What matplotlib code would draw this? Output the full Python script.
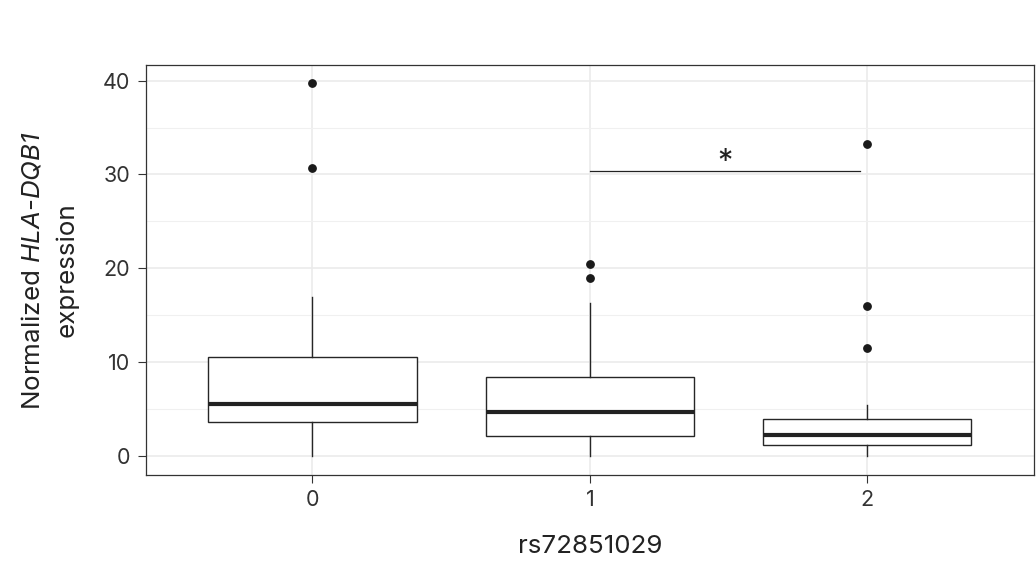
import numpy as np
import matplotlib
matplotlib.use("Agg")
import matplotlib.pyplot as plt

# Box statistics (one entry per genotype)
genotypes = ["0", "1", "2"]
whislo = [0.0, 0.0, 0.0]
q1 = [3.66, 2.13, 1.21]
med = [5.57, 4.72, 2.23]
q3 = [10.53, 8.40, 3.98]
whishi = [17.0, 16.3, 5.5]
fliers = [[39.7, 30.7], [20.5, 19.0], [33.2, 16.0, 11.5]]

# significance bracket between genotype 1 and 2
sig_x = [1.0, 1.975]
sig_y = 30.4
sig_label = "*"

plt.rcParams['font.family'] = ["Inter", "DejaVu Sans"]
plt.rcParams['mathtext.fontset'] = "custom"
plt.rcParams['mathtext.rm'] = "Inter"
plt.rcParams['mathtext.sf'] = "Inter:italic"

fig = plt.figure(figsize=(10.36, 5.71), dpi=100)
ax = fig.add_axes([0.1409, 0.1681, 0.998 - 0.1409, 0.8867 - 0.1681])

stats = []
for i in range(len(genotypes)):
    stats.append(dict(whislo=whislo[i], q1=q1[i], med=med[i], q3=q3[i],
                      whishi=whishi[i], fliers=fliers[i], label=genotypes[i]))

ax.bxp(stats, positions=range(len(genotypes)), widths=0.75, showcaps=False,
       patch_artist=True,
       boxprops=dict(facecolor="white", edgecolor="#262626", linewidth=1.0),
       medianprops=dict(color="#222222", linewidth=3.0, solid_capstyle="butt"),
       whiskerprops=dict(color="#262626", linewidth=1.0),
       flierprops=dict(marker="o", markersize=5.3, markerfacecolor="#1a1a1a",
                       markeredgecolor="#1a1a1a"),
       zorder=3)

ax.plot(sig_x, [sig_y, sig_y], color="#222222", lw=0.9, zorder=3)
ax.text(np.mean(sig_x), 31.35, sig_label, ha="center", va="center",
        fontsize=22, color="#222222", zorder=3)

ax.set_xlim(-0.6, 2.6)
ax.set_ylim(-1.985, 41.685)
ax.set_yticks([0, 10, 20, 30, 40])
ax.set_yticks([5, 15, 25, 35], minor=True)
ax.set_xticks(range(len(genotypes)))
ax.set_xticklabels(genotypes)

ax.grid(True, which="major", color="#EBEBEB", linewidth=1.2, zorder=0)
ax.grid(True, which="minor", axis="y", color="#F0F0F0", linewidth=0.8, zorder=0)
ax.set_axisbelow(True)
ax.tick_params(which="major", length=6, width=0.8, color="#333333",
               labelsize=15.5, labelcolor="#333333")
ax.tick_params(axis="y", pad=5.5)
ax.tick_params(axis="x", pad=5)
ax.tick_params(which="minor", length=0)
for s in ax.spines.values():
    s.set_color("#333333")
    s.set_linewidth(0.9)

fig.text(0.5695, 1 - 553 / 571, "rs72851029", ha="center", va="baseline",
         fontsize=18.7, color="#222222")
fig.text(0.031, 1 - 270 / 571, "Normalized $\\mathsf{HLA}$-$\\mathsf{DQB1}$",
         rotation=90, ha="center", va="center", fontsize=18.7, color="#222222")
fig.text(0.065, 1 - 270 / 571, "expression", rotation=90, ha="center",
         va="center", fontsize=18.7, color="#222222")

fig.savefig("out.png", dpi=100)
